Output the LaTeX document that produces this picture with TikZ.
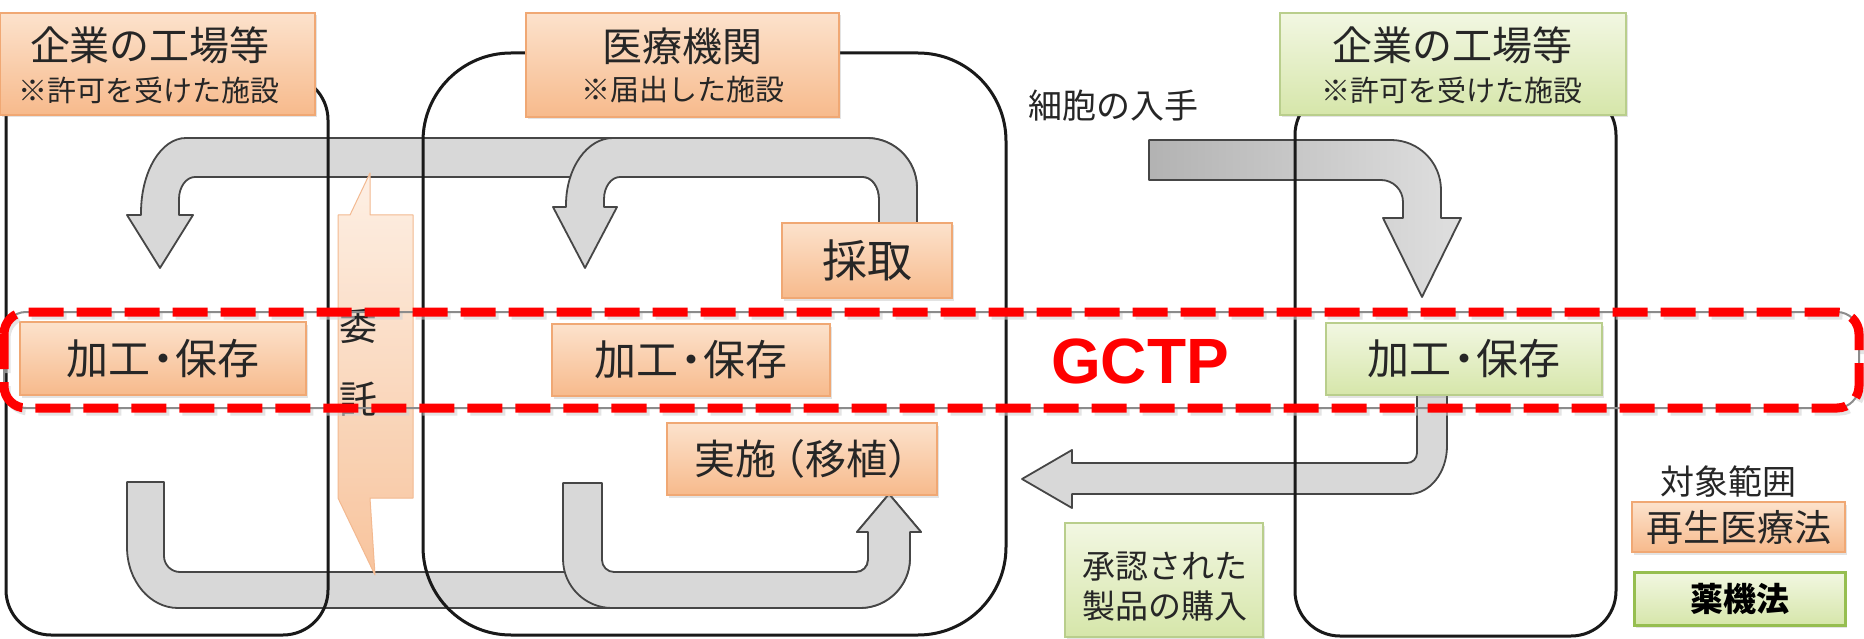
\documentclass[tikz,border=0pt]{standalone}
\usepackage{fontspec}
\newfontfamily\jp{Noto Sans CJK JP}
\newfontfamily\lsans{Liberation Sans}
\usetikzlibrary{shadows}
\definecolor{peachT}{RGB}{252,226,204}
\definecolor{peachB}{RGB}{247,186,140}
\definecolor{peachE}{RGB}{240,168,116}
\definecolor{greenT}{RGB}{242,247,226}
\definecolor{greenB}{RGB}{214,230,170}
\definecolor{greenE}{RGB}{185,206,140}
\definecolor{greenK}{RGB}{150,190,80}
\definecolor{arrF}{RGB}{216,216,216}
\definecolor{arrE}{RGB}{70,70,70}
\definecolor{txt}{RGB}{38,38,38}
\definecolor{gred}{RGB}{255,0,0}
\newcommand{\kakohozon}{加工\kern-0.2em・\kern-0.2em保存}
\tikzset{
  base/.style={inner sep=0pt, outer sep=0pt},
  shd/.style={drop shadow={shadow xshift=1.5pt, shadow yshift=-2.5pt, opacity=0.22}},
  obox/.style={base, shd, draw=peachE, line width=1.2, top color=peachT, bottom color=peachB},
  gbox/.style={base, shd, draw=greenE, line width=1.2, top color=greenT, bottom color=greenB},
  jt/.style={base, text=txt, font=\jp\fontsize{#1}{#1}\selectfont},
  arrowshape/.style={draw=arrE, line width=1.8, fill=arrF, line join=round},
  cont/.style={draw=black!90, line width=3, rounded corners=#1},
  calloutbox/.style={draw=peachE!80, line width=1, top color=peachT!60!white, bottom color=peachB, fill opacity=0.85, line join=round},
}
\begin{document}
\begin{tikzpicture}[x=1pt,y=-1pt]
\path[fill=white] (0,0) rectangle (1864,639);
\useasboundingbox (0,0) rectangle (1864,639);

% ---------- gray arrows ----------
% A: long top arrow to left processing
\path[arrowshape] (879,223) -- (879,199) .. controls (879,186.9) and (871.8,177) .. (863,177)
  -- (195,177) .. controls (186.2,177) and (179,186.9) .. (179,199)
  -- (179,215) -- (193,215) -- (160,268) -- (127,215) -- (141,215) -- (141,213)
  .. controls (141,171.2) and (161.2,138) .. (186,138)
  -- (867,138) .. controls (894.6,138) and (917,160.4) .. (917,188) -- (917,223) -- cycle;
% B: middle top loop
\path[arrowshape] (879,223) -- (879,199) .. controls (879,186.9) and (871.8,177) .. (863,177)
  -- (620,177) .. controls (611.2,177) and (604,186.9) .. (604,199)
  -- (604,207) -- (617,207) -- (585,268) -- (553,207) -- (566,207) -- (566,205)
  .. controls (566,168) and (587.1,138) .. (613,138)
  -- (867,138) .. controls (894.6,138) and (917,160.4) .. (917,188) -- (917,223) -- cycle;
% C: cell acquisition
\path[draw=arrE, line width=1.8, left color=gray!60, right color=gray!25, line join=round]
  (1149,140) -- (1391,140) .. controls (1418.6,140) and (1441,162.4) .. (1441,190)
  -- (1441,218) -- (1461,218) -- (1422,297) -- (1383,218) -- (1403,218) -- (1403,202)
  .. controls (1403,189.9) and (1393.1,180) .. (1381,180) -- (1149,180) -- cycle;
% D: purchase of approved products
\path[arrowshape] (1417,395) -- (1447,395) -- (1447,446)
  .. controls (1447,472.5) and (1430,494) .. (1409,494)
  -- (1072,494) -- (1072,508) -- (1022,479) -- (1072,450) -- (1072,463) -- (1407,463)
  .. controls (1412.5,463) and (1417,458.5) .. (1417,453) -- cycle;
% E: long bottom U arrow
\path[arrowshape] (127,482) -- (164,482) -- (164,556)
  .. controls (164,564.8) and (171.2,572) .. (180,572)
  -- (856,572) .. controls (862.6,572) and (868,566.6) .. (868,560)
  -- (868,532) -- (857,532) -- (889,494) -- (921,532) -- (910,532) -- (910,558)
  .. controls (910,585.6) and (887.6,608) .. (860,608)
  -- (178,608) .. controls (149.8,608) and (127,580.7) .. (127,547) -- cycle;
% F: middle bottom U arrow
\path[arrowshape] (563,483) -- (602,483) -- (602,560)
  .. controls (602,566.6) and (607.4,572) .. (614,572)
  -- (856,572) .. controls (862.6,572) and (868,566.6) .. (868,560)
  -- (868,532) -- (857,532) -- (889,494) -- (921,532) -- (910,532) -- (910,558)
  .. controls (910,585.6) and (887.6,608) .. (860,608)
  -- (612,608) .. controls (585,608) and (563,586) .. (563,559) -- cycle;

% ---------- callout 委託 ----------
\path[calloutbox] (338,215) -- (350,215) -- (370,173) -- (370,215) -- (413,215)
  -- (413,498) -- (370,498) -- (375,575) -- (338,498) -- cycle;
\node[jt=38] (itaku1) at (358,326) {委};
\node[jt=38] (itaku2) at (358,399) {託};

% ---------- containers ----------
\draw[cont=45] (6,75) rectangle (328,635);
\draw[cont=88] (423,53) rectangle (1006,635);
\draw[cont=45] (1295,90) rectangle (1616,636);

% ---------- headers ----------
\node[obox, minimum width=315, minimum height=102] (hL) at (157.5,64) {};
\node[jt=40] (hLt) at (150,45) {企業の工場等};
\node[jt=29] (hLs) at (149,90) {※許可を受けた施設};

\node[obox, minimum width=313, minimum height=104] (hM) at (682.5,65) {};
\node[jt=40] (hMt) at (682,46) {医療機関};
\node[jt=29] (hMs) at (683,89) {※届出した施設};

\node[gbox, minimum width=346, minimum height=102] (hR) at (1453,64) {};
\node[jt=40] (hRt) at (1452,45) {企業の工場等};
\node[jt=29] (hRs) at (1452,90) {※許可を受けた施設};

% ---------- boxes ----------
\node[obox, minimum width=286, minimum height=73, jt=42] (kL) at (163,358.5) {\kakohozon};
\node[obox, minimum width=278, minimum height=72, jt=42] (kM) at (691,360) {\kakohozon};
\node[obox, minimum width=170, minimum height=75, jt=45] (saishu) at (867,260.5) {採取};
\node[obox, minimum width=270, minimum height=72, jt=41] (jisshi) at (802,459) {実施\kern-0.3em（移植）\kern-0.45em};
\node[gbox, minimum width=276, minimum height=72, jt=42] (kR) at (1464,359) {\kakohozon};
\node[gbox, minimum width=198, minimum height=114] (shonin) at (1164,580) {};
\node[jt=33] (shonin1) at (1165,567) {承認された};
\node[jt=33] (shonin2) at (1165,606) {製品の購入};

\node[jt=34] (saibo) at (1113,106) {細胞の入手};

% ---------- legend ----------
\node[jt=34] (taisho) at (1728,482) {対象範囲};
\node[obox, minimum width=213, minimum height=50, jt=37] (saisei) at (1738.5,527) {再生医療法};
\node[base, shd, draw=greenK, line width=3, top color=greenT, bottom color=greenB,
      minimum width=211, minimum height=53, text=black, font=\jp\bfseries\fontsize{33}{33}\selectfont] (yakki) at (1739.5,598.5) {薬機法};

% ---------- red dashed GCTP region ----------
\draw[line width=7, gray!35, rounded corners=22, dash pattern=on 35pt off 13pt, opacity=0.6]
  (7,316) rectangle (1862,412);
\draw[line width=2, black!45, rounded corners=22] (4,312) rectangle (1859,408);
\draw[line width=9, gred, rounded corners=22, dash pattern=on 35pt off 13pt]
  (4,312) rectangle (1859,408);
\node[base, text=gred, font=\lsans\bfseries\fontsize{64}{64}\selectfont] (gctp) at (1140,361) {GCTP};
\end{tikzpicture}
\end{document}
